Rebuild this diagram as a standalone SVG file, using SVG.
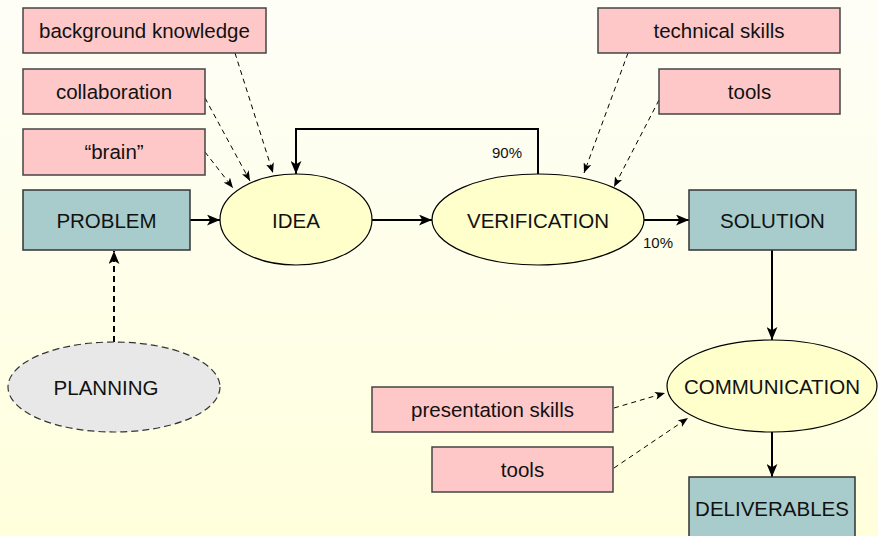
<svg xmlns="http://www.w3.org/2000/svg" width="878" height="536" viewBox="0 0 878 536">
  <defs>
    <linearGradient id="bg" x1="0" y1="0" x2="0" y2="1">
      <stop offset="0" stop-color="#fefef8"/>
      <stop offset="1" stop-color="#ffffdc"/>
    </linearGradient>
    <marker id="arrowBig" viewBox="0 0 12 10" refX="12" refY="5" markerWidth="13" markerHeight="11" markerUnits="userSpaceOnUse" orient="auto">
      <path d="M0,0 L12,5 L0,10 L3,5 z" fill="#000"/>
    </marker>
    <marker id="arrowSmall" viewBox="0 0 10 8" refX="10" refY="4" markerWidth="10" markerHeight="8" markerUnits="userSpaceOnUse" orient="auto">
      <path d="M0,0 L10,4 L0,8 L2.5,4 z" fill="#000"/>
    </marker>
  </defs>
  <style>
    text { font-family: "Liberation Sans", Arial, sans-serif; font-size: 20.5px; fill: #111; text-anchor: middle; }
    .pct { font-size: 15px; }
    .res { fill: #ffc8c8; stroke: #444; stroke-width: 1.5; }
    .step { fill: #a8cccc; stroke: #333; stroke-width: 1.5; }
    .act { fill: #ffffcc; stroke: #000; stroke-width: 1.2; }
    .plan { fill: #e8e8e8; stroke: #333; stroke-width: 1.2; stroke-dasharray: 7 4; }
    .flow { fill: none; stroke: #000; stroke-width: 2; marker-end: url(#arrowBig); }
    .input { fill: none; stroke: #000; stroke-width: 1; stroke-dasharray: 5 4; marker-end: url(#arrowSmall); }
    .input2 { fill: none; stroke: #000; stroke-width: 2; stroke-dasharray: 6 4; marker-end: url(#arrowBig); }
  </style>

  <rect x="0" y="0" width="878" height="536" fill="url(#bg)"/>

  <!-- connectors -->
  <g id="connectors">
    <line class="flow" x1="190" y1="220" x2="220" y2="220"/>
    <line class="flow" x1="372" y1="220" x2="432" y2="220"/>
    <polyline class="flow" points="538,174 538,129 296,129 296,174"/>
    <line class="flow" x1="644" y1="220" x2="689" y2="220"/>
    <line class="flow" x1="772" y1="250" x2="772" y2="340"/>
    <line class="flow" x1="772" y1="432" x2="772" y2="477"/>
    <line class="input2" x1="114" y1="342" x2="114" y2="251"/>
    <line class="input" x1="235" y1="53" x2="273" y2="173"/>
    <line class="input" x1="205" y1="98" x2="250" y2="181"/>
    <line class="input" x1="205" y1="152" x2="233" y2="188"/>
    <line class="input" x1="628" y1="53" x2="584" y2="173"/>
    <line class="input" x1="659" y1="100" x2="614" y2="187"/>
    <line class="input" x1="614" y1="408" x2="665" y2="393"/>
    <line class="input" x1="614" y1="468" x2="688" y2="418"/>
    <text class="pct" x="507" y="158">90%</text>
    <text class="pct" x="658" y="248">10%</text>
  </g>

  <!-- resource boxes -->
  <g id="background-knowledge">
    <rect class="res" x="23" y="8" width="243" height="45"/>
    <text x="144.5" y="38">background knowledge</text>
  </g>
  <g id="collaboration">
    <rect class="res" x="23" y="69" width="182" height="45"/>
    <text x="114" y="99">collaboration</text>
  </g>
  <g id="brain">
    <rect class="res" x="23" y="129" width="182" height="46"/>
    <text x="114" y="159">“brain”</text>
  </g>
  <g id="technical-skills">
    <rect class="res" x="598" y="8" width="242" height="45"/>
    <text x="719" y="38">technical skills</text>
  </g>
  <g id="tools-verification">
    <rect class="res" x="659" y="69" width="181" height="45"/>
    <text x="749.5" y="99">tools</text>
  </g>
  <g id="presentation-skills">
    <rect class="res" x="372" y="387" width="241" height="45"/>
    <text x="492.5" y="417">presentation skills</text>
  </g>
  <g id="tools-communication">
    <rect class="res" x="432" y="447" width="181" height="45"/>
    <text x="522.5" y="477">tools</text>
  </g>

  <!-- process steps -->
  <g id="problem">
    <rect class="step" x="23" y="190" width="167" height="60"/>
    <text x="106.5" y="227.5">PROBLEM</text>
  </g>
  <g id="idea">
    <ellipse class="act" cx="296" cy="219.5" rx="76" ry="45.5"/>
    <text x="296" y="227.5">IDEA</text>
  </g>
  <g id="verification">
    <ellipse class="act" cx="538" cy="219.5" rx="106" ry="45.5"/>
    <text x="538" y="227.5">VERIFICATION</text>
  </g>
  <g id="solution">
    <rect class="step" x="689" y="190" width="167" height="60"/>
    <text x="772.5" y="227.5">SOLUTION</text>
  </g>
  <g id="communication">
    <ellipse class="act" cx="772" cy="386" rx="105" ry="46"/>
    <text x="772" y="393.5">COMMUNICATION</text>
  </g>
  <g id="deliverables">
    <rect class="step" x="689" y="477" width="166" height="62"/>
    <text x="772" y="516">DELIVERABLES</text>
  </g>
  <g id="planning">
    <ellipse class="plan" cx="114" cy="387" rx="106" ry="45"/>
    <text x="106" y="394.5">PLANNING</text>
  </g>
</svg>
